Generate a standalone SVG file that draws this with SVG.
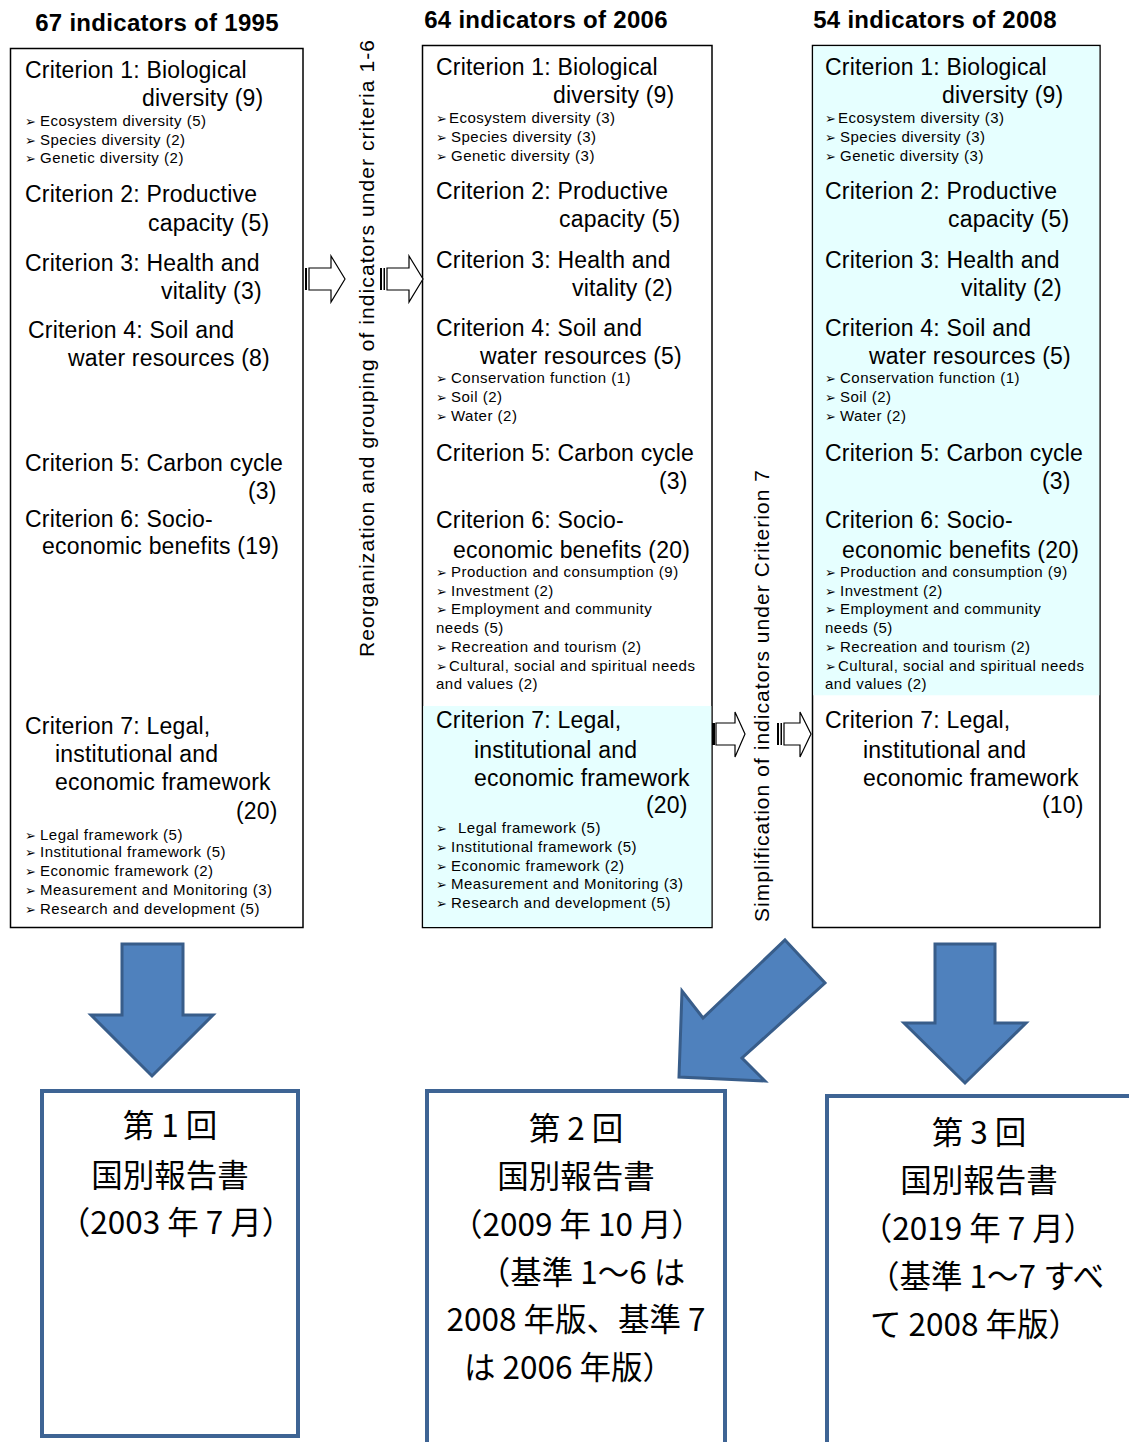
<svg xmlns="http://www.w3.org/2000/svg" width="1129" height="1442" viewBox="0 0 1129 1442">
<style>
.hd{font-family:"Liberation Sans","DejaVu Sans",sans-serif;font-size:24px;font-weight:bold;letter-spacing:0.3px;fill:#000}
.c{font-family:"Liberation Sans","DejaVu Sans",sans-serif;font-size:23px;letter-spacing:0.2px;fill:#000}
.s{font-family:"Liberation Sans","DejaVu Sans",sans-serif;font-size:15px;letter-spacing:0.5px;fill:#000}
.bl{font-family:"DejaVu Sans",sans-serif;font-size:13px;letter-spacing:0}
.v{font-family:"Liberation Sans","DejaVu Sans",sans-serif;font-size:21px;fill:#000}
.jp{font-family:"Noto Sans CJK JP",sans-serif;font-size:31.5px;fill:#000;text-anchor:middle}
.box{fill:#fff;stroke:#000;stroke-width:1.5}
.cy{fill:#E6FFFF}
.ha{fill:#fff;stroke:#000;stroke-width:1.2}
.bar{fill:#000}
.ba{fill:#4F81BD;stroke:#385D8A;stroke-width:3;stroke-linejoin:miter}
.rb{fill:#fff;stroke:#3E6494;stroke-width:4}
</style>

<g id="headers">
<text class="hd" x="157" y="31" text-anchor="middle">67 indicators of 1995</text>
<text class="hd" x="546" y="28" text-anchor="middle">64 indicators of 2006</text>
<text class="hd" x="935" y="28" text-anchor="middle">54 indicators of 2008</text>
</g>

<g id="box1995">
<rect class="box" x="10.5" y="48.5" width="292.5" height="879"/>
<text class="c" x="25" y="78">Criterion 1: Biological</text>
<text class="c" x="142" y="106">diversity (9)</text>
<text class="s" y="126"><tspan class="bl" x="25">➢</tspan><tspan x="40">Ecosystem diversity (5)</tspan></text>
<text class="s" y="145"><tspan class="bl" x="25">➢</tspan><tspan x="40">Species diversity (2)</tspan></text>
<text class="s" y="163"><tspan class="bl" x="25">➢</tspan><tspan x="40">Genetic diversity (2)</tspan></text>
<text class="c" x="25" y="202">Criterion 2: Productive</text>
<text class="c" x="148" y="231">capacity (5)</text>
<text class="c" x="25" y="271">Criterion 3: Health and</text>
<text class="c" x="161" y="299">vitality (3)</text>
<text class="c" x="28" y="338">Criterion 4: Soil and</text>
<text class="c" x="68" y="366">water resources (8)</text>
<text class="c" x="25" y="471">Criterion 5: Carbon cycle</text>
<text class="c" x="248" y="499">(3)</text>
<text class="c" x="25" y="527">Criterion 6: Socio-</text>
<text class="c" x="42" y="554">economic benefits (19)</text>
<text class="c" x="25" y="734">Criterion 7: Legal,</text>
<text class="c" x="55" y="762">institutional and</text>
<text class="c" x="55" y="790">economic framework</text>
<text class="c" x="236" y="819">(20)</text>
<text class="s" y="840"><tspan class="bl" x="25">➢</tspan><tspan x="40">Legal framework (5)</tspan></text>
<text class="s" y="857"><tspan class="bl" x="25">➢</tspan><tspan x="40">Institutional framework (5)</tspan></text>
<text class="s" y="876"><tspan class="bl" x="25">➢</tspan><tspan x="40">Economic framework (2)</tspan></text>
<text class="s" y="895"><tspan class="bl" x="25">➢</tspan><tspan x="40">Measurement and Monitoring (3)</tspan></text>
<text class="s" y="914"><tspan class="bl" x="25">➢</tspan><tspan x="40">Research and development (5)</tspan></text>
</g>

<g id="box2006">
<rect class="box" x="422.5" y="45.5" width="289.5" height="882"/>
<rect class="cy" x="423.3" y="706" width="288" height="221"/>
<text class="c" x="436" y="75">Criterion 1: Biological</text>
<text class="c" x="553" y="103">diversity (9)</text>
<text class="s" y="123"><tspan class="bl" x="436">➢</tspan><tspan x="449">Ecosystem diversity (3)</tspan></text>
<text class="s" y="142"><tspan class="bl" x="436">➢</tspan><tspan x="451">Species diversity (3)</tspan></text>
<text class="s" y="161"><tspan class="bl" x="436">➢</tspan><tspan x="451">Genetic diversity (3)</tspan></text>
<text class="c" x="436" y="199">Criterion 2: Productive</text>
<text class="c" x="559" y="227">capacity (5)</text>
<text class="c" x="436" y="268">Criterion 3: Health and</text>
<text class="c" x="572" y="296">vitality (2)</text>
<text class="c" x="436" y="336">Criterion 4: Soil and</text>
<text class="c" x="480" y="364">water resources (5)</text>
<text class="s" y="383"><tspan class="bl" x="436">➢</tspan><tspan x="451">Conservation function (1)</tspan></text>
<text class="s" y="402"><tspan class="bl" x="436">➢</tspan><tspan x="451">Soil (2)</tspan></text>
<text class="s" y="421"><tspan class="bl" x="436">➢</tspan><tspan x="451">Water (2)</tspan></text>
<text class="c" x="436" y="461">Criterion 5: Carbon cycle</text>
<text class="c" x="659" y="489">(3)</text>
<text class="c" x="436" y="528">Criterion 6: Socio-</text>
<text class="c" x="453" y="558">economic benefits (20)</text>
<text class="s" y="577"><tspan class="bl" x="436">➢</tspan><tspan x="451">Production and consumption (9)</tspan></text>
<text class="s" y="596"><tspan class="bl" x="436">➢</tspan><tspan x="451">Investment (2)</tspan></text>
<text class="s" y="614"><tspan class="bl" x="436">➢</tspan><tspan x="451">Employment and community</tspan></text>
<text class="s" x="436" y="633">needs (5)</text>
<text class="s" y="652"><tspan class="bl" x="436">➢</tspan><tspan x="451">Recreation and tourism (2)</tspan></text>
<text class="s" y="671"><tspan class="bl" x="436">➢</tspan><tspan x="449">Cultural, social and spiritual needs</tspan></text>
<text class="s" x="436" y="689">and values (2)</text>
<text class="c" x="436" y="728">Criterion 7: Legal,</text>
<text class="c" x="474" y="758">institutional and</text>
<text class="c" x="474" y="786">economic framework</text>
<text class="c" x="646" y="813">(20)</text>
<text class="s" y="833"><tspan class="bl" x="436">➢</tspan><tspan x="458">Legal framework (5)</tspan></text>
<text class="s" y="852"><tspan class="bl" x="436">➢</tspan><tspan x="451">Institutional framework (5)</tspan></text>
<text class="s" y="871"><tspan class="bl" x="436">➢</tspan><tspan x="451">Economic framework (2)</tspan></text>
<text class="s" y="889"><tspan class="bl" x="436">➢</tspan><tspan x="451">Measurement and Monitoring (3)</tspan></text>
<text class="s" y="908"><tspan class="bl" x="436">➢</tspan><tspan x="451">Research and development (5)</tspan></text>
</g>

<g id="box2008">
<rect class="box" x="812.5" y="45.5" width="287.5" height="882"/>
<rect class="cy" x="813.3" y="46.3" width="286" height="649"/>
<text class="c" x="825" y="75">Criterion 1: Biological</text>
<text class="c" x="942" y="103">diversity (9)</text>
<text class="s" y="123"><tspan class="bl" x="825">➢</tspan><tspan x="838">Ecosystem diversity (3)</tspan></text>
<text class="s" y="142"><tspan class="bl" x="825">➢</tspan><tspan x="840">Species diversity (3)</tspan></text>
<text class="s" y="161"><tspan class="bl" x="825">➢</tspan><tspan x="840">Genetic diversity (3)</tspan></text>
<text class="c" x="825" y="199">Criterion 2: Productive</text>
<text class="c" x="948" y="227">capacity (5)</text>
<text class="c" x="825" y="268">Criterion 3: Health and</text>
<text class="c" x="961" y="296">vitality (2)</text>
<text class="c" x="825" y="336">Criterion 4: Soil and</text>
<text class="c" x="869" y="364">water resources (5)</text>
<text class="s" y="383"><tspan class="bl" x="825">➢</tspan><tspan x="840">Conservation function (1)</tspan></text>
<text class="s" y="402"><tspan class="bl" x="825">➢</tspan><tspan x="840">Soil (2)</tspan></text>
<text class="s" y="421"><tspan class="bl" x="825">➢</tspan><tspan x="840">Water (2)</tspan></text>
<text class="c" x="825" y="461">Criterion 5: Carbon cycle</text>
<text class="c" x="1042" y="489">(3)</text>
<text class="c" x="825" y="528">Criterion 6: Socio-</text>
<text class="c" x="842" y="558">economic benefits (20)</text>
<text class="s" y="577"><tspan class="bl" x="825">➢</tspan><tspan x="840">Production and consumption (9)</tspan></text>
<text class="s" y="596"><tspan class="bl" x="825">➢</tspan><tspan x="840">Investment (2)</tspan></text>
<text class="s" y="614"><tspan class="bl" x="825">➢</tspan><tspan x="840">Employment and community</tspan></text>
<text class="s" x="825" y="633">needs (5)</text>
<text class="s" y="652"><tspan class="bl" x="825">➢</tspan><tspan x="840">Recreation and tourism (2)</tspan></text>
<text class="s" y="671"><tspan class="bl" x="825">➢</tspan><tspan x="838">Cultural, social and spiritual needs</tspan></text>
<text class="s" x="825" y="689">and values (2)</text>
<text class="c" x="825" y="728">Criterion 7: Legal,</text>
<text class="c" x="863" y="758">institutional and</text>
<text class="c" x="863" y="786">economic framework</text>
<text class="c" x="1042" y="813">(10)</text>
</g>

<g id="labels">
<text class="v" transform="translate(374,348.5) rotate(-90)" text-anchor="middle" textLength="617" lengthAdjust="spacing">Reorganization and grouping of indicators under criteria 1-6</text>
<text class="v" transform="translate(769,696) rotate(-90)" text-anchor="middle" textLength="452" lengthAdjust="spacing">Simplification of indicators under Criterion 7</text>
</g>

<g id="report1">
<rect class="rb" x="42" y="1091" width="256" height="345"/>
<text class="jp" x="170" y="1137">第 1 回</text>
<text class="jp" x="170" y="1187">国別報告書</text>
<text class="jp" x="176" y="1234">（2003 年 7 月）</text>
</g>

<g id="report2">
<rect class="rb" x="427" y="1091" width="298" height="400"/>
<text class="jp" x="576" y="1140">第 2 回</text>
<text class="jp" x="576" y="1188">国別報告書</text>
<text class="jp" x="577" y="1236">（2009 年 10 月）</text>
<text class="jp" x="582" y="1284">（基準 1～6 は</text>
<text class="jp" x="576" y="1331">2008 年版、基準 7</text>
<text class="jp" x="569" y="1379">は 2006 年版）</text>
</g>

<g id="report3">
<rect class="rb" x="827" y="1096" width="320" height="400"/>
<text class="jp" x="979" y="1144">第 3 回</text>
<text class="jp" x="979" y="1192">国別報告書</text>
<text class="jp" x="978" y="1240">（2019 年 7 月）</text>
<text class="jp" x="986" y="1288">（基準 1～7 すべ</text>
<text class="jp" x="975" y="1336">て 2008 年版）</text>
</g>

<g id="connectors">
<rect class="bar" x="305" y="268" width="2" height="22"/>
<polygon class="ha" points="309,268 331,268 331,256 345,279 331,302 331,290 309,290"/>
<rect class="bar" x="380" y="268" width="2" height="22"/>
<rect class="bar" x="383.5" y="268" width="1.5" height="22"/>
<polygon class="ha" points="387,268 409,268 409,256 423,279 409,302 409,290 387,290"/>
<rect class="bar" x="712" y="723" width="3" height="22"/>
<polygon class="ha" points="716,723 735,723 735,712 745,734 735,757 735,745 716,745"/>
<rect class="bar" x="777" y="723" width="2" height="22"/>
<rect class="bar" x="780.5" y="723" width="1.5" height="22"/>
<polygon class="ha" points="784,723 800,723 800,712 811,734 800,757 800,745 784,745"/>
<polygon class="ba" points="122,944 183,944 183,1015 213,1015 152,1076 91,1015 122,1015"/>
<polygon class="ba" points="785,940 825,983 742,1058 765,1081 679,1077 682,991 703,1018"/>
<polygon class="ba" points="935,944 995,944 995,1023 1026,1023 965,1083 904,1023 935,1023"/>
</g>
</svg>
